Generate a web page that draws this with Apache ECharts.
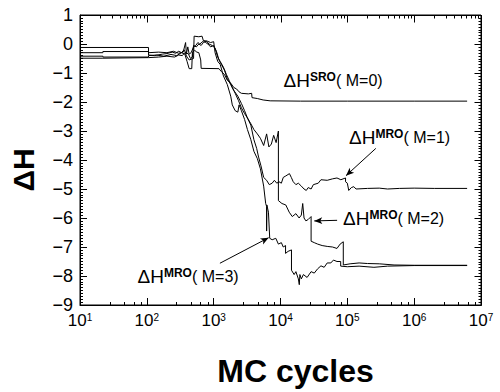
<!DOCTYPE html>
<html><head><meta charset="utf-8">
<script src="https://cdn.jsdelivr.net/npm/echarts@6/dist/echarts.min.js"></script>
<style>html,body{margin:0;padding:0;background:#fff}#c{width:500px;height:392px}</style>
</head><body><div id="c"></div>
<script>
// ---- data (MC cycles, ΔH) ----
const xTickExponents = [1, 2, 3, 4, 5, 6, 7];
const yTickValues = [-9, -8, -7, -6, -5, -4, -3, -2, -1, 0, 1];

const sroData = [[10,-0.42],[22,-0.42],[22,-0.45],[106,-0.45],[106,-0.40],[140,-0.38],[180,-0.42],[230,-0.36],[280,-0.40],[330,-0.30],[370,-0.35],[400,-0.60],[430,-0.85],[470,-0.85],[480,-0.30],[520,-0.22],[560,-0.28],[600,-0.30],[640,-0.55],[650,-0.84],[1200,-0.85],[1300,-0.95],[1450,-1.05],[1600,-1.25],[1800,-1.35],[2000,-1.50],[2200,-1.55],[2400,-1.65],[2600,-1.70],[3300,-1.72],[3700,-1.70],[3750,-1.85],[4500,-1.88],[5500,-1.93],[7000,-1.96],[20000,-1.97],[100000,-1.97],[1000000,-1.97],[6200000,-1.97]];

const m1Data = [[10,-0.30],[22,-0.30],[22,-0.26],[106,-0.26],[106,-0.38],[130,-0.40],[170,-0.35],[200,-0.33],[240,-0.28],[270,-0.32],[300,-0.25],[330,-0.30],[360,-0.20],[390,-0.35],[410,-0.10],[430,-0.35],[460,-0.30],[500,-0.10],[540,-0.05],[580,0.05],[620,0.00],[700,0.10],[760,0.05],[820,0.00],[900,-0.10],[1000,-0.05],[1100,-0.25],[1200,-0.55],[1300,-0.70],[1450,-0.90],[1600,-1.20],[1800,-1.40],[2000,-1.60],[2300,-1.80],[2600,-2.05],[2900,-2.30],[3200,-2.55],[3600,-2.80],[4000,-3.30],[4400,-3.60],[4700,-3.90],[5100,-4.20],[5600,-4.60],[6200,-4.70],[6800,-4.85],[7500,-4.80],[8100,-4.70],[8800,-4.80],[9500,-4.75],[10300,-4.80],[11000,-4.60],[12000,-4.55],[13600,-4.47],[14500,-4.60],[15500,-4.75],[17000,-4.85],[18500,-4.80],[20500,-4.90],[22500,-5.00],[24300,-5.05],[26000,-4.95],[28700,-5.00],[31000,-4.85],[36700,-4.80],[40300,-4.68],[50000,-4.70],[60000,-4.65],[70000,-4.62],[80000,-4.68],[94000,-4.62],[94000,-4.75],[100000,-4.80],[105000,-5.05],[115000,-4.95],[125000,-4.92],[135000,-5.00],[200000,-4.98],[300000,-4.97],[400000,-5.00],[600000,-4.98],[1000000,-4.97],[2000000,-4.98],[6200000,-4.98]];

const m2Data = [[10,-0.12],[106,-0.12],[106,-0.30],[150,-0.28],[200,-0.30],[250,-0.25],[300,-0.32],[350,-0.28],[380,0.05],[390,-0.30],[420,-0.35],[450,-0.50],[480,-0.45],[500,-0.05],[550,-0.10],[600,0.00],[650,-0.05],[700,0.05],[780,0.10],[850,0.00],[950,-0.05],[1050,-0.15],[1150,-0.45],[1250,-0.60],[1400,-0.80],[1550,-1.05],[1700,-1.25],[1900,-1.50],[2100,-1.70],[2350,-1.95],[2600,-2.20],[2900,-2.40],[3200,-2.55],[3600,-2.75],[4000,-2.95],[4500,-3.10],[5000,-3.25],[5600,-3.50],[6200,-3.10],[6700,-3.55],[7300,-3.45],[7900,-3.15],[8600,-3.40],[9300,-3.00],[9300,-5.40],[10500,-5.50],[12000,-5.55],[13500,-5.80],[15000,-5.95],[17000,-5.85],[19000,-6.00],[20500,-5.90],[21500,-5.50],[22500,-6.00],[24000,-6.10],[26000,-6.05],[28700,-5.95],[28700,-6.80],[32000,-6.85],[36000,-6.90],[42000,-6.95],[50000,-6.98],[60000,-7.00],[70000,-7.05],[78000,-6.90],[87000,-6.82],[87000,-7.62],[110000,-7.58],[150000,-7.55],[200000,-7.57],[300000,-7.58],[500000,-7.62],[1000000,-7.63],[6200000,-7.63]];

const m3Data = [[10,-0.49],[22,-0.49],[106,-0.47],[150,-0.45],[200,-0.42],[260,-0.45],[300,-0.38],[340,-0.40],[370,-0.30],[400,-0.45],[430,-0.55],[500,-0.50],[510,0.27],[600,0.25],[670,0.27],[700,0.12],[800,0.10],[900,0.05],[1000,0.08],[1050,-0.30],[1150,-0.60],[1250,-0.70],[1400,-1.10],[1600,-1.40],[1800,-1.80],[1900,-2.10],[2100,-2.30],[2300,-2.35],[2400,-2.10],[2600,-2.30],[2900,-2.60],[3200,-2.95],[3600,-3.30],[4000,-3.70],[4500,-3.95],[5000,-4.30],[5600,-4.90],[6000,-5.50],[6200,-5.60],[6200,-6.45],[6250,-5.55],[6600,-5.80],[6900,-6.70],[7500,-6.75],[8500,-6.70],[9300,-6.90],[10300,-6.85],[11000,-7.00],[11900,-6.95],[11900,-7.22],[13000,-7.15],[14600,-7.10],[14600,-7.80],[16000,-7.95],[17000,-7.85],[18500,-8.10],[19100,-8.30],[19500,-7.95],[20500,-8.10],[22000,-7.95],[25000,-8.05],[28700,-7.85],[32000,-7.90],[36000,-7.75],[40300,-7.65],[45000,-7.70],[50000,-7.55],[56600,-7.55],[62000,-7.45],[70000,-7.50],[79500,-7.50],[79500,-7.66],[100000,-7.68],[150000,-7.66],[250000,-7.70],[400000,-7.66],[1000000,-7.64],[6200000,-7.64]];

const annotationLabels = [
  {text: '{d|ΔH}{s|SRO}{m|( M=0)}', at: [11100, -1.25]},
  {text: '{d|ΔH}{s|MRO}{m|( M=1)}', at: [106000, -3.23]},
  {text: '{d|ΔH}{s|MRO}{m|( M=2)}', at: [86300, -6.01]},
  {text: '{d|ΔH}{s|MRO}{m|( M=3)}', at: [72.6, -8.03]}
];
const annotationArrows = [
  [[267000, -3.6], [95500, -4.54]],
  [[70300, -6.08], [32000, -6.10]],
  [[1240, -7.56], [6640, -6.68]]
];

const FONT = '"Liberation Sans", Arial, sans-serif';
const NARROW = '"Liberation Sans Narrow", "Arial Narrow", "Liberation Sans", sans-serif';
const chart = echarts.init(document.getElementById('c'), null, {renderer: 'svg'});

const lineSeries = (data) => ({
  type: 'line', data, showSymbol: false, symbol: 'none', silent: true,
  lineStyle: {color: '#000', width: 1}
});

const s0 = lineSeries(sroData);
s0.markPoint = {
  silent: true, symbol: 'circle', symbolSize: 0, animation: false,
  label: {
    show: true, position: 'right', distance: 0, color: '#000',
    rich: {
      d: {fontSize: 19, fontFamily: FONT, color: '#000'},
      s: {fontSize: 12, fontWeight: 'bold', fontFamily: FONT, verticalAlign: 'top', color: '#000'},
      m: {fontSize: 16, fontFamily: NARROW, color: '#000'}
    }
  },
  data: annotationLabels.map(a => ({coord: a.at, label: {formatter: a.text}}))
};
s0.markLine = {
  silent: true, animation: false, symbol: ['none', 'arrow'], symbolSize: [5, 8],
  lineStyle: {color: '#000', width: 1, type: 'solid'}, label: {show: false},
  data: annotationArrows.map(a => [{coord: a[0]}, {coord: a[1]}])
};

chart.setOption({
  animation: false,
  backgroundColor: '#fff',
  grid: {left: 77, right: 19, top: 15, bottom: 79, show: true, borderColor: '#000', borderWidth: 1, backgroundColor: 'transparent'},
  xAxis: {
    type: 'log', logBase: 10, min: 10, max: 1e7, splitNumber: 6, position: 'bottom',
    axisLine: {show: true, onZero: false, lineStyle: {color: '#000', width: 1}},
    axisTick: {show: true, inside: true, length: 7, lineStyle: {color: '#000'}},
    minorTick: {show: true, length: 3, lineStyle: {color: '#000'}},
    splitLine: {show: false}, minorSplitLine: {show: false},
    axisLabel: {
      margin: 7, color: '#000',
      formatter: v => '{b|10}{s|' + Math.round(Math.log10(v)) + '}',
      rich: {
        b: {fontSize: 17, fontFamily: FONT, color: '#000'},
        s: {fontSize: 10, fontFamily: FONT, verticalAlign: 'top', color: '#000'}
      }
    },
    name: 'MC cycles', nameLocation: 'middle', nameGap: 50,
    nameTextStyle: {fontSize: 32, fontWeight: 'bold', fontFamily: FONT, color: '#000', padding: [0, 0, 0, 30]}
  },
  yAxis: {
    type: 'value', min: -9, max: 1, interval: 1, position: 'left',
    axisLine: {show: true, onZero: false, lineStyle: {color: '#000', width: 1}},
    axisTick: {show: true, inside: true, length: 7, lineStyle: {color: '#000'}},
    minorTick: {show: true, splitNumber: 10, length: 3, lineStyle: {color: '#000'}},
    splitLine: {show: false}, minorSplitLine: {show: false},
    axisLabel: {
      margin: 7, color: '#000', fontSize: 18, fontFamily: FONT,
      formatter: v => (v < 0 ? '\u2212' + Math.abs(v) : String(v))
    },
    name: 'ΔH', nameLocation: 'middle', nameGap: 42,
    nameTextStyle: {fontSize: 30, fontWeight: 'bold', fontFamily: FONT, color: '#000', padding: [0, 20, 0, 0]}
  },
  series: [s0, lineSeries(m1Data), lineSeries(m2Data), lineSeries(m3Data)]
});

// ---- mirrored frame + ticks on top and right, placed through the axes' own scales ----
const crisp = v => Math.round(v) + 0.5;
const px = v => chart.convertToPixel({xAxisIndex: 0}, v);
const py = v => chart.convertToPixel({yAxisIndex: 0}, v);
const xL = crisp(px(10)), xR = crisp(px(1e7)), yT = crisp(py(1)), yB = crisp(py(-9));
const g = [];
const seg = (x1, y1, x2, y2) => g.push({type: 'line', z: 100, silent: true, shape: {x1, y1, x2, y2}, style: {stroke: '#000', lineWidth: 1}});
seg(xL, yT, xR, yT);
seg(xR, yT, xR, yB);
xTickExponents.forEach(n => {
  const x = crisp(px(Math.pow(10, n)));
  seg(x, yT, x, yT + 7);
  if (n < 7) for (let k = 2; k <= 9; k++) {
    const xm = crisp(px(k * Math.pow(10, n)));
    seg(xm, yT, xm, yT + 3);
  }
});
yTickValues.forEach(v => {
  const y = crisp(py(v));
  seg(xR, y, xR - 7, y);
  if (v < 1) for (let k = 1; k <= 9; k++) {
    const ym = crisp(py(v + k / 10));
    seg(xR, ym, xR - 3, ym);
  }
});
chart.setOption({graphic: {elements: g}});
</script>
</body></html>
